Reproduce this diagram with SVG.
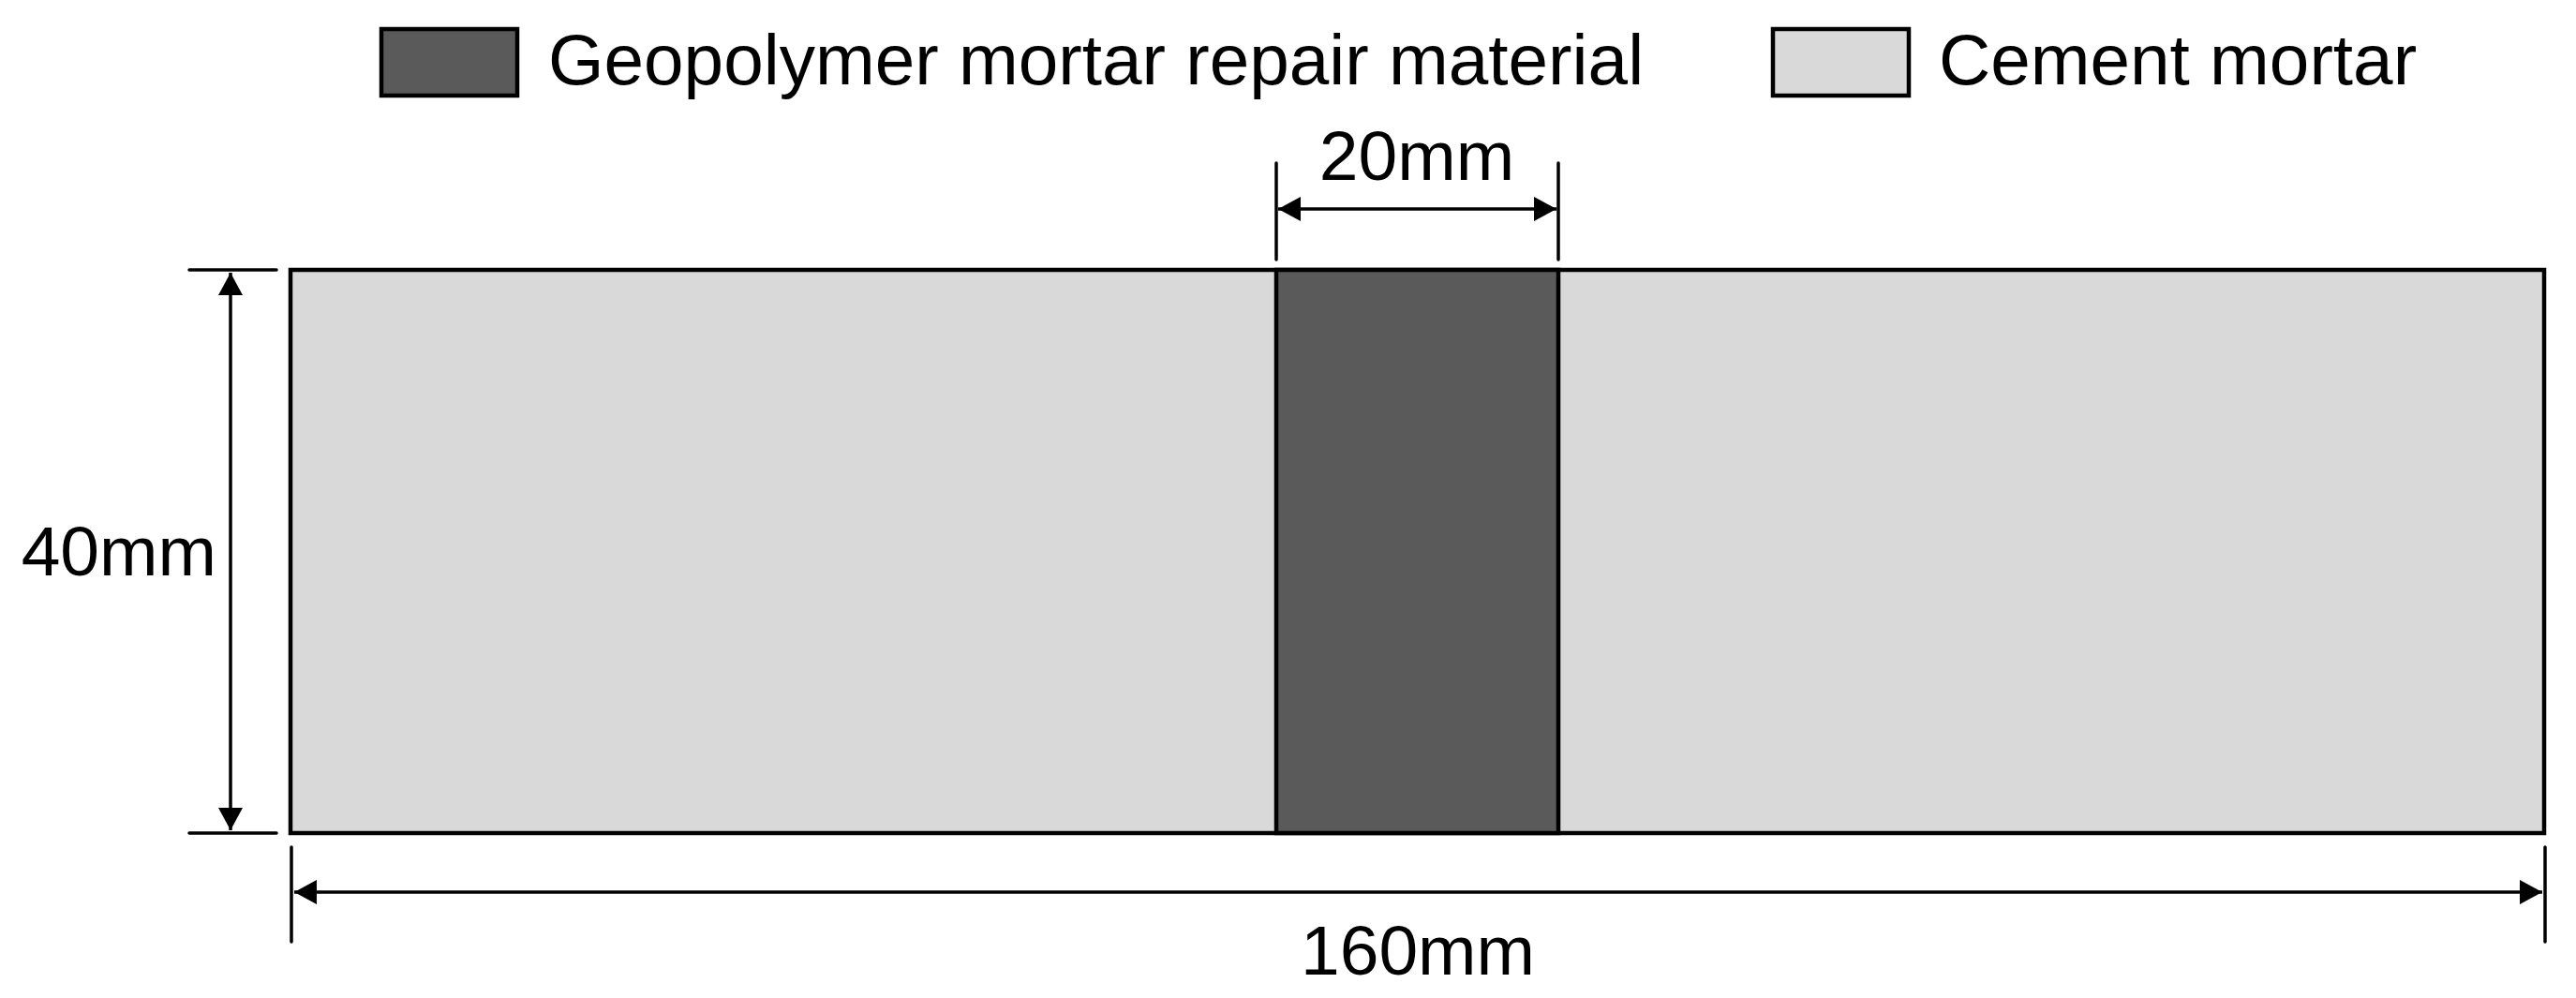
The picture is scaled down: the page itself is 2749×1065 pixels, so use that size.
<svg xmlns="http://www.w3.org/2000/svg" width="2749" height="1065" viewBox="0 0 2749 1065">
  <style>
    .lbl { font-family: "Liberation Sans", Arial, sans-serif; font-size: 75px; fill: #000; }
    .leg { font-size: 76.5px; }
    .dark { fill: #5a5a5a; stroke: #000; stroke-width: 4.5; }
    .light { fill: #d9d9d9; stroke: #000; stroke-width: 4.5; }
    .ext { stroke: #000; stroke-width: 3.5; fill: none; stroke-linecap: round; }
    .dim { stroke: #000; stroke-width: 3.5; fill: none; marker-start: url(#arr); marker-end: url(#arr); }
  </style>
  <defs>
    <marker id="arr" markerUnits="userSpaceOnUse" viewBox="0 0 24 26" markerWidth="24" markerHeight="26" refX="24" refY="13" orient="auto-start-reverse">
      <path d="M0,0 L24,13 L0,26 Z" fill="#000"/>
    </marker>
  </defs>

  <rect width="2749" height="1065" fill="#fff"/>

  <g id="legend-geopolymer">
    <rect class="dark" x="407" y="31" width="145" height="71"/>
    <text class="lbl leg" x="585" y="90">Geopolymer mortar repair material</text>
  </g>
  <g id="legend-cement">
    <rect class="light" x="1892" y="31" width="145" height="71"/>
    <text class="lbl leg" x="2069" y="90">Cement mortar</text>
  </g>

  <g id="specimen">
    <rect id="cement-mortar" class="light" x="310" y="288" width="2405" height="601"/>
    <rect id="repair-material" class="dark" x="1362" y="288" width="301" height="601"/>
  </g>

  <g id="connectors">
    <g id="dim-20mm">
      <line class="ext" x1="1362" y1="174" x2="1362" y2="277"/>
      <line class="ext" x1="1663" y1="174" x2="1663" y2="277"/>
      <line class="dim" x1="1364" y1="223" x2="1661" y2="223"/>
    </g>
    <g id="dim-40mm">
      <line class="ext" x1="202" y1="288" x2="295" y2="288"/>
      <line class="ext" x1="202" y1="889" x2="295" y2="889"/>
      <line class="dim" x1="246" y1="291" x2="246" y2="886"/>
    </g>
    <g id="dim-160mm">
      <line class="ext" x1="311" y1="904" x2="311" y2="1005"/>
      <line class="ext" x1="2716" y1="904" x2="2716" y2="1005"/>
      <line class="dim" x1="314" y1="952" x2="2713" y2="952"/>
    </g>
  </g>

  <g id="dimension-labels">
    <text class="lbl" x="1512" y="192" text-anchor="middle">20mm</text>
    <text class="lbl" x="231" y="614" text-anchor="end">40mm</text>
    <text class="lbl" x="1513" y="1040" text-anchor="middle">160mm</text>
  </g>
</svg>
